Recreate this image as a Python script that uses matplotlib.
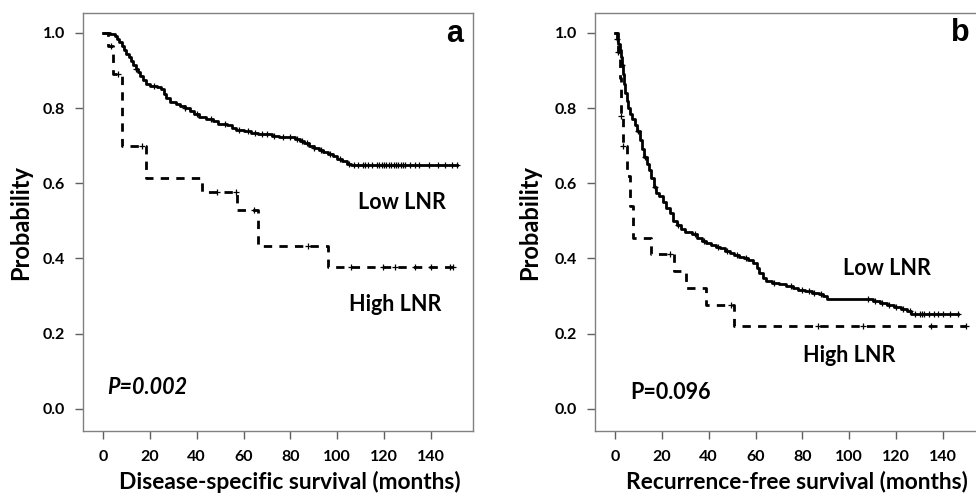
import numpy as np
import matplotlib
matplotlib.use("Agg")
import matplotlib.pyplot as plt

plt.rcParams['font.family'] = ['Lato', 'DejaVu Sans']

# panel a: disease-specific survival
low_a_t = [0, 3, 5, 6, 7, 8, 9, 10, 11, 12, 13, 14, 15, 16, 17, 18.5, 20, 23, 25, 26, 27, 28.5,
           31, 33, 35, 37, 39, 41, 44, 47, 49, 53, 55, 57, 60, 63, 66, 69, 72, 75, 82, 84, 86,
           88, 90, 92, 94, 96, 98, 100, 102, 104, 106, 151]
low_a_s = [1.0, 0.997, 0.993, 0.985, 0.975, 0.965, 0.955, 0.944, 0.935, 0.925, 0.915, 0.905,
           0.895, 0.885, 0.875, 0.865, 0.860, 0.857, 0.850, 0.838, 0.826, 0.815, 0.810, 0.806,
           0.800, 0.792, 0.784, 0.777, 0.772, 0.765, 0.758, 0.755, 0.748, 0.742, 0.738, 0.735,
           0.732, 0.730, 0.725, 0.722, 0.718, 0.712, 0.706, 0.700, 0.694, 0.688, 0.682, 0.677,
           0.672, 0.665, 0.658, 0.651, 0.648, 0.648]
low_a_cens = [14, 22, 35, 40, 46, 52, 58, 62, 65, 68, 70, 73, 77, 80, 83, 85, 87, 90, 93, 97,
              101, 105, 107, 109, 111, 112, 113, 115, 117, 118, 119, 120, 121, 122, 123, 124,
              125, 126, 127, 128, 129, 131, 133, 135, 139, 143, 146, 149, 151]
high_a_t = [0, 2, 4.3, 8, 18.6, 42.1, 57.3, 66.2, 96.1, 149.4]
high_a_s = [1.0, 0.966, 0.89, 0.70, 0.615, 0.577, 0.53, 0.433, 0.378, 0.378]
high_a_cens = [3.5, 6.5, 16.5, 48.9, 56.7, 64.6, 87.4, 106, 119.5, 124.5, 133, 140, 148, 149.4]

# panel b: recurrence-free survival
low_b_t = [0, 1, 1.5, 2, 2.5, 3, 3.5, 4, 4.5, 5, 5.5, 6.5, 7.5, 8.5, 9.5, 10.5, 11.5, 12.5,
           13.5, 14.5, 15.5, 16.5, 17.5, 19, 20.5, 22, 23.5, 25, 26.5, 28, 30, 33, 35, 37, 39,
           41, 43, 45, 47, 49, 51, 53, 55, 57, 59, 60.5, 61.5, 63, 64.5, 67, 70, 73, 76, 78,
           81, 84, 87, 89, 90.5, 110, 113, 116, 119, 122, 124.5, 126.5, 146.3]
low_b_s = [1.0, 0.985, 0.97, 0.955, 0.935, 0.915, 0.89, 0.865, 0.84, 0.82, 0.80, 0.785, 0.77,
           0.755, 0.74, 0.715, 0.69, 0.67, 0.65, 0.635, 0.615, 0.59, 0.575, 0.565, 0.55, 0.535,
           0.52, 0.50, 0.49, 0.478, 0.47, 0.465, 0.455, 0.447, 0.44, 0.435, 0.43, 0.427, 0.42,
           0.415, 0.41, 0.405, 0.401, 0.395, 0.388, 0.375, 0.36, 0.348, 0.34, 0.336, 0.331,
           0.326, 0.321, 0.317, 0.313, 0.309, 0.305, 0.30, 0.292, 0.287, 0.282, 0.277, 0.272,
           0.266, 0.26, 0.251, 0.251]
low_b_cens = [1, 3, 10, 13, 17, 27, 34, 38, 44, 48, 52, 56, 68, 75, 80, 83, 85, 88, 108, 111,
              114, 117, 120, 123, 126, 128, 130, 131, 132, 134, 136, 138, 140, 143, 146.3]
high_b_t = [0, 1.2, 2.0, 2.7, 3.4, 5.2, 6.5, 7.8, 15.2, 25.4, 30.4, 38.9, 51.0, 149.8]
high_b_s = [1.0, 0.95, 0.88, 0.78, 0.70, 0.62, 0.54, 0.455, 0.413, 0.366, 0.322, 0.275, 0.22, 0.22]
high_b_cens = [1.5, 2.7, 3.4, 23.3, 49.6, 86.6, 105.8, 134.9, 149.8]

yticks = [0.0, 0.2, 0.4, 0.6, 0.8, 1.0]
xticks = [0, 20, 40, 60, 80, 100, 120, 140]


def surv_at(t, s, times):
    idx = np.searchsorted(t, times, side='right') - 1
    return np.array(s)[idx]


def km(ax, t, s, cens, dashed):
    ls = (0, (3, 2.6)) if dashed else '-'
    ax.plot(t, s, drawstyle='steps-post', color='black', lw=2.0, linestyle=ls)
    ax.plot(cens, surv_at(t, s, cens), '+', color='black', ms=5, mew=0.9)


fig = plt.figure(figsize=(9.76, 5), dpi=100)
ax_a = fig.add_axes([0.0850, 0.138, 0.3996, 0.836])
ax_b = fig.add_axes([0.6096, 0.138, 0.3996, 0.836])

km(ax_a, low_a_t, low_a_s, low_a_cens, False)
km(ax_a, high_a_t, high_a_s, high_a_cens, True)
km(ax_b, low_b_t, low_b_s, low_b_cens, False)
km(ax_b, high_b_t, high_b_s, high_b_cens, True)

for ax, xl, xlx, ylx in [(ax_a, 'Disease-specific survival (months)', 0.531, -0.159),
                         (ax_b, 'Recurrence-free survival (months)', 0.518, -0.167)]:
    ax.set_xlim(-8.5, 157.9)
    ax.set_ylim(-0.059, 1.053)
    ax.set_xticks(xticks)
    ax.set_yticks(yticks)
    ax.set_yticklabels(['%.1f' % v for v in yticks])
    for sp in ax.spines.values():
        sp.set_color('#808080')
        sp.set_linewidth(1.0)
    ax.tick_params(length=6, width=1.0, color='#606060', labelsize=11.5, pad=7)
    ax.tick_params(axis='x', pad=8)
    for lab in ax.get_xticklabels() + ax.get_yticklabels():
        lab.set_fontweight('bold')
    ax.set_xlabel(xl, fontsize=16.4, fontweight='bold')
    ax.set_ylabel('Probability', fontsize=17, fontweight='bold')
    ax.xaxis.set_label_coords(xlx, -0.122)
    ax.yaxis.set_label_coords(ylx, 0.5)
    ax.xaxis.label.set_va('center')
    ax.yaxis.label.set_va('center')

ax_a.text(108.7, 0.549, 'Low LNR', fontsize=15.5, fontweight='bold', va='center')
ax_a.text(104.9, 0.277, 'High LNR', fontsize=15.5, fontweight='bold', va='center')
ax_a.text(1.7, 0.056, 'P=0.002', fontsize=15.5, fontweight='bold', style='italic', va='center')
ax_a.text(150, 0.997, 'a', fontsize=22, fontweight='bold', ha='center', va='center',
          family='Liberation Sans')

ax_b.text(97.2, 0.373, 'Low LNR', fontsize=15.5, fontweight='bold', va='center')
ax_b.text(80.2, 0.141, 'High LNR', fontsize=15.5, fontweight='bold', va='center')
ax_b.text(6.4, 0.043, 'P=0.096', fontsize=15.5, fontweight='bold', va='center')
ax_b.text(147.5, 1.0, 'b', fontsize=22, fontweight='bold', ha='center', va='center',
          family='Liberation Sans')

fig.savefig('out.png', dpi=100)
